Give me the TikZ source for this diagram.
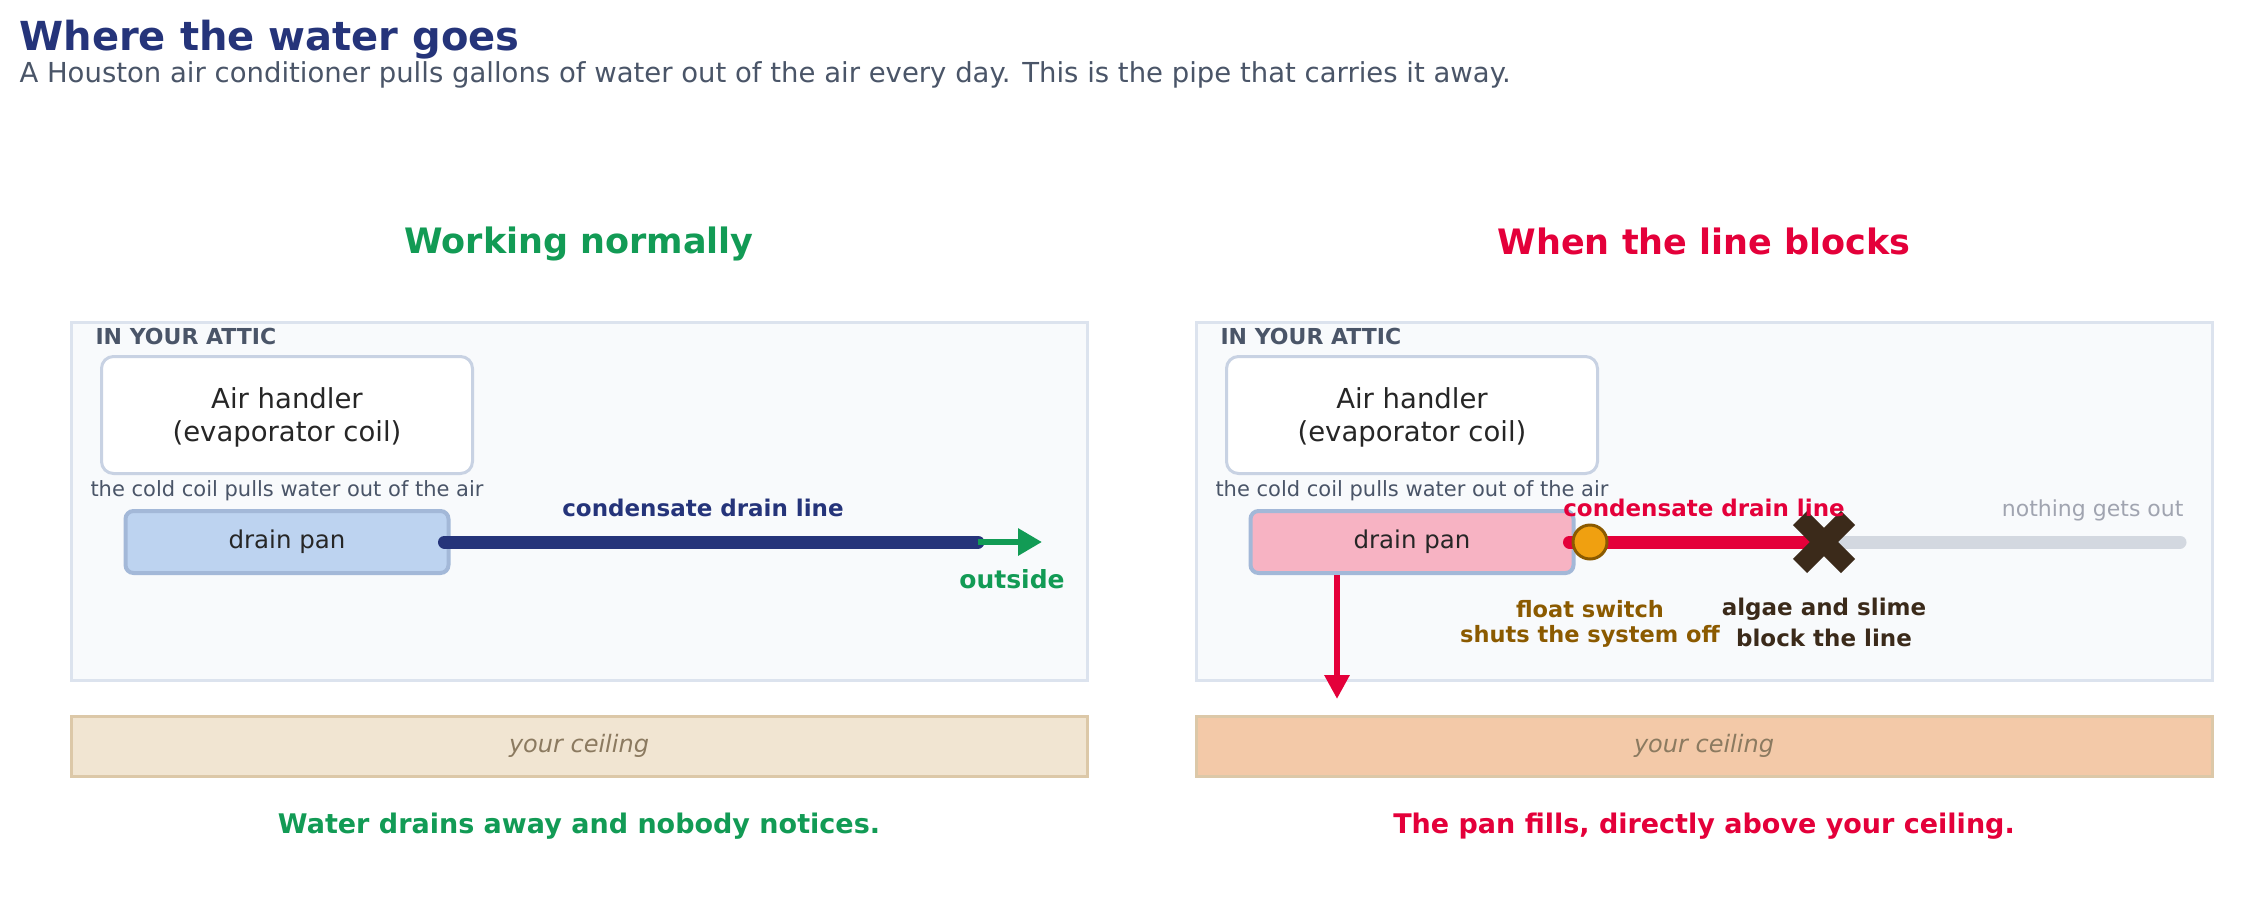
\documentclass[tikz,border=0pt]{standalone}
\usepackage{fontspec}
\setmainfont{DejaVu Sans}
\usetikzlibrary{arrows.meta,calc}

\definecolor{navy}{HTML}{25347A}
\definecolor{okgreen}{HTML}{129B55}
\definecolor{alarm}{HTML}{E4003A}
\definecolor{slate}{HTML}{4A5568}
\definecolor{panelfill}{HTML}{F8FAFC}
\definecolor{paneledge}{HTML}{DCE3EE}
\definecolor{coiledge}{HTML}{C8D2E3}
\definecolor{panblue}{HTML}{BDD3F0}
\definecolor{panedge}{HTML}{A3B8D8}
\definecolor{panpink}{HTML}{F7B3C3}
\definecolor{ceilok}{HTML}{F1E5D2}
\definecolor{ceilwet}{HTML}{F3C9A8}
\definecolor{ceiledge}{HTML}{DCC8A8}
\definecolor{ceiltext}{HTML}{8B7A60}
\definecolor{pipegray}{HTML}{D3D8E0}
\definecolor{floatfill}{HTML}{F0A010}
\definecolor{floatedge}{HTML}{8B5A00}
\definecolor{clog}{HTML}{3B2A1A}
\definecolor{mutegray}{HTML}{A0A4B0}

\begin{document}
\begin{tikzpicture}[x=1pt, y=-1pt,
    coil/.style={draw=coiledge, fill=white, line width=3, rounded corners=12,
      minimum width=371, minimum height=117, align=center, text depth=0pt,
      font=\fontsize{27.5}{33}\selectfont, text=black!85},
    pan/.style={draw=panedge, line width=4, rounded corners=8,
      minimum width=323, minimum height=62, font=\fontsize{24.5}{28}\selectfont, text=black!85},
    ceiling/.style={draw=ceiledge, line width=3, minimum width=1016, minimum height=60,
      text=ceiltext, font=\fontsize{24}{28}\selectfont\itshape},
    pipe/.style={line width=13, line cap=round},
    bold/.style={font=\fontsize{#1}{#1}\selectfont\bfseries},
    plain/.style={font=\fontsize{#1}{#1}\selectfont}]
  \useasboundingbox[fill=white] (0,0) rectangle (2264,897);

  % heading
  \node[anchor=west, bold=40, text=navy] (title) at (16,40) {Where the water goes};
  \node[anchor=west, plain=27.5, text=slate] (sub) at (16,75)
    {A Houston air conditioner pulls gallons of water out of the air every day. This is the pipe that carries it away.};

  % left: working normally
  \node[bold=35, text=okgreen] (headL) at (579,244) {Working normally};
  \draw[paneledge, fill=panelfill, line width=3] (71,322) rectangle (1087,680);
  \node[anchor=west, bold=22, text=slate] (atticL) at (92,336) {IN YOUR ATTIC};
  \node[coil] (coilL) at (287,415) {Air handler\\(evaporator coil)};
  \node[plain=21, text=slate] (noteL) at (287,491) {the cold coil pulls water out of the air};
  \node[pan, fill=panblue] (panL) at (287,542) {drain pan};

  \coordinate (endL) at (978,542);
  \coordinate (outL) at (1042,542);
  \draw[pipe, navy] ([xshift=-6]panL.east) -- (endL);
  \draw[okgreen, line width=6, -{Triangle[length=24, width=26]}] (endL) -- (outL);
  \node[bold=23, text=navy] (lineL) at (703,508) {condensate drain line};
  \node[bold=25, text=okgreen] (outside) at (1012,579) {outside};

  \node[ceiling, fill=ceilok] (ceilL) at (579,746) {your ceiling};
  \node[bold=27, text=okgreen] (capL) at (579,826) {Water drains away and nobody notices.};

  % right: the line blocks
  \node[bold=35, text=alarm] (headR) at (1704,241) {When the line blocks};
  \draw[paneledge, fill=panelfill, line width=3] (1196,322) rectangle (2212,680);
  \node[anchor=west, bold=22, text=slate] (atticR) at (1217,336) {IN YOUR ATTIC};
  \node[coil] (coilR) at (1412,415) {Air handler\\(evaporator coil)};
  \node[plain=21, text=slate] (noteR) at (1412,491) {the cold coil pulls water out of the air};
  \node[pan, fill=panpink] (panR) at (1412,542) {drain pan};

  \coordinate (clogR) at (1824,542);
  \coordinate (endR) at (2180,542);
  \coordinate (drip) at (1337,699);
  \draw[pipe, pipegray] (clogR) -- (endR);
  \draw[pipe, alarm] ([xshift=-6]panR.east) -- (clogR);
  \node[circle, draw=floatedge, fill=floatfill, line width=3, minimum size=34, inner sep=0] (float) at (1590,542) {};
  \draw[clog, line width=20] ($(clogR)+(-24,-24)$) -- ($(clogR)+(24,24)$);
  \draw[clog, line width=20] ($(clogR)+(-24,24)$) -- ($(clogR)+(24,-24)$);
  \draw[alarm, line width=6, -{Triangle[length=24, width=24]}] (drip |- panR.south) -- (drip);

  \node[bold=23, text=alarm] (lineR) at (1704,508) {condensate drain line};
  \node[anchor=east, plain=22, text=mutegray] (stuck) at (2187,510) {nothing gets out};
  \node[align=center, font=\fontsize{22.5}{25}\selectfont\bfseries, text=floatedge] (floatlbl) at (1590,624) {float switch\\shuts the system off};
  \node[align=center, font=\fontsize{23}{31}\selectfont\bfseries, text=clog] (cloglbl) at (1824,622) {algae and slime\\block the line};

  \node[ceiling, fill=ceilwet] (ceilR) at (1704,746) {your ceiling};
  \node[bold=27, text=alarm] (capR) at (1704,826) {The pan fills, directly above your ceiling.};
\end{tikzpicture}
\end{document}
